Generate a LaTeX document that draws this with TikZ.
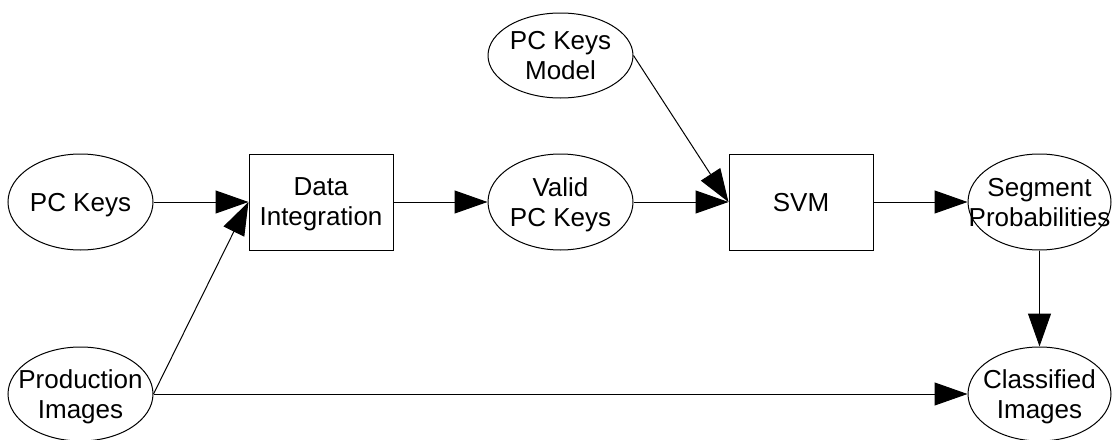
\documentclass[tikz,border=0pt]{standalone}
\usepackage{fontspec}
\setmainfont{Liberation Sans}
\usetikzlibrary{shapes.geometric,arrows.meta}
\tikzset{
  outline/.style={draw=black, line width=1pt, inner sep=0pt},
  oval/.style={outline, ellipse, minimum width=145pt, minimum height=96pt},
  box/.style={outline, rectangle, minimum width=144pt, minimum height=96pt},
  txt/.style={inner sep=0pt, text depth=0pt, align=center, font=\fontsize{26}{30}\selectfont},
  flow/.style={draw=black, line width=1pt, -{Triangle[length=33pt,width=23pt]}}
}
\begin{document}
\begin{tikzpicture}[x=1pt, y=-1pt]
  \useasboundingbox (0,0) rectangle (1116,439);
  % outlines: sources
  \node[oval] (keys) at (80.5,202) {};
  \node[oval, minimum height=94pt] (prod) at (80.5,394) {};
  \node[oval, minimum height=85pt] (model) at (560.5,55.5) {};
  % outlines: processing steps
  \node[box] (integ) at (321,202) {};
  \node[oval] (valid) at (560.5,202) {};
  \node[box] (svm) at (801,202) {};
  % outlines: results
  \node[oval, minimum width=143pt] (seg) at (1039.5,202) {};
  \node[oval, minimum width=143pt, minimum height=94pt] (cls) at (1039.5,394) {};
  % captions
  \node[txt] (keys-t) at (keys) {PC Keys};
  \node[txt] (prod-t) at (prod) {Production\\Images};
  \node[txt] (model-t) at (model) {PC Keys\\Model};
  \node[txt] (integ-t) at (integ) {Data\\Integration};
  \node[txt] (valid-t) at (valid) {Valid\\PC Keys};
  \node[txt] (svm-t) at (svm) {SVM};
  \node[txt] (seg-t) at (seg) {Segment\\Probabilities};
  \node[txt] (cls-t) at (cls) {Classified\\Images};
  % connectors
  \draw[flow] (keys.east) -- (integ.west);
  \draw[flow] (prod.east) -- (integ.west);
  \draw[flow] (integ.east) -- (valid.west);
  \draw[flow] (valid.east) -- (svm.west);
  \draw[flow] (model.east) -- (svm.west);
  \draw[flow] (svm.east) -- (seg.west);
  \draw[flow] (seg.south) -- (cls.north);
  \draw[flow] (prod.east) -- (cls.west);
\end{tikzpicture}
\end{document}
